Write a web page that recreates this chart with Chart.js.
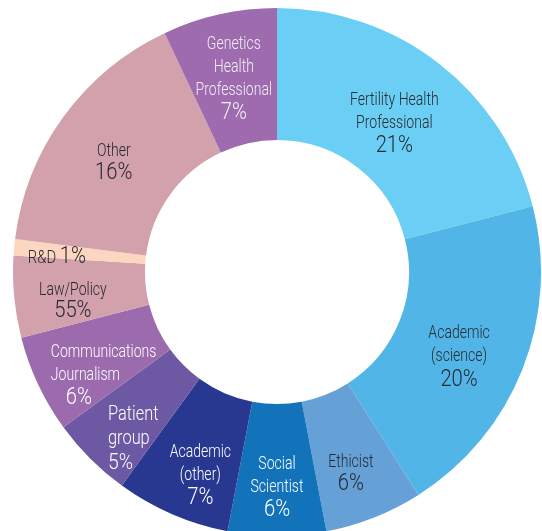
<!DOCTYPE html>
<html>
<head>
<meta charset="utf-8">
<script src="https://cdn.jsdelivr.net/npm/chart.js@4/dist/chart.umd.min.js"></script>
<style>
  html, body { margin: 0; padding: 0; background: #ffffff; overflow: hidden; width: 542px; height: 531px; }
  #wrap { position: absolute; left: 13px; top: 8px; width: 528px; height: 528px; }
</style>
</head>
<body>
<div id="wrap"><canvas id="c" width="528" height="528"></canvas></div>
<script>
// ---- data ----
const categories = [
  "Fertility Health Professional", "Academic (science)", "Ethicist", "Social Scientist",
  "Academic (other)", "Patient group", "Communications Journalism", "Law/Policy",
  "R&D", "Other", "Genetics Health Professional"
];
const shares = [21, 20, 6, 6, 7, 5, 6, 5, 1, 16, 7];
const percentLabels = ["21%", "20%", "6%", "6%", "7%", "5%", "6%", "55%", "1%", "16%", "7%"];
const nameLines = [
  ["Fertility Health", "Professional"],
  ["Academic", "(science)"],
  ["Ethicist"],
  ["Social", "Scientist"],
  ["Academic", "(other)"],
  ["Patient", "group"],
  ["Communications", "Journalism"],
  ["Law/Policy"],
  ["R&D"],
  ["Other"],
  ["Genetics", "Health", "Professional"]
];

// ---- styles ----
const colors = ["#6BCEF5", "#52B5E7", "#65A1D6", "#1273BB", "#283891", "#6C58A3",
                "#9C6BAE", "#D3A1AB", "#FDD6C1", "#D3A1AB", "#9D6BAE"];
const textColors = ["#262a31", "#262a31", "#262a31", "#ffffff", "#ffffff", "#ffffff",
                    "#ffffff", "#262a31", "#262a31", "#262a31", "#f5eef7"];
// label layout relative to each arc's centre point
const labelLayout = [
  {dx: -4, dy: 8,  align: "center", ns: 18, ps: 23, gap: 23, pdx: 0},
  {dx: -2, dy: 12, align: "center", ns: 18, ps: 23, gap: 23, pdx: 0},
  {dx: 1,  dy: 17, align: "center", ns: 18, ps: 23, gap: 22, pdx: 0},
  {dx: 0,  dy: 17, align: "center", ns: 18, ps: 23, gap: 23, pdx: 0},
  {dx: 2,  dy: 22, align: "center", ns: 18, ps: 23, gap: 23, pdx: 0},
  {dx: -29, dy: 27, align: "left", ns: 21, ps: 22, gap: 24, pdx: 0},
  {dx: -47, dy: 19, align: "left", ns: 18, ps: 23, gap: 23, pdx: 15},
  {dx: -7, dy: 10, align: "center", ns: 18, ps: 23, gap: 21, pdx: 0},
  {dx: -23, dy: 4, align: "inline", ns: 19, ps: 23, gap: 0, pdx: 0},
  {dx: -3, dy: 7, align: "center", ns: 18, ps: 23, gap: 22, pdx: 0},
  {dx: 0, dy: 0, align: "center", ns: 18, ps: 23, gap: 23, pdx: 0}
];
const FONT = "Roboto, 'DejaVu Sans Condensed', sans-serif";
const WEIGHT = "300";
const SX_NAME = 0.78;
const SX_PCT = 0.88;

function textWidth(ctx, txt, size, sx) {
  ctx.save();
  ctx.font = WEIGHT + " " + size + "px " + FONT;
  const w = ctx.measureText(txt).width * sx;
  ctx.restore();
  return w;
}
function drawText(ctx, txt, x, y, size, align, sx) {
  const w = textWidth(ctx, txt, size, sx);
  ctx.save();
  ctx.font = WEIGHT + " " + size + "px " + FONT;
  ctx.textBaseline = "middle";
  ctx.textAlign = "left";
  const left = align === "center" ? x - w / 2 : x;
  ctx.translate(left, y);
  ctx.scale(sx, 1);
  ctx.fillText(txt, 0, 0);
  ctx.restore();
  return w;
}

const labelPlugin = {
  id: "sliceLabels",
  afterDatasetsDraw(chart) {
    const ctx = chart.ctx;
    const meta = chart.getDatasetMeta(0);
    meta.data.forEach((arc, i) => {
      const p = arc.getCenterPoint();
      const L = labelLayout[i];
      const cx = p.x + L.dx, cy = p.y + L.dy;
      ctx.fillStyle = textColors[i];
      if (L.align === "inline") {
        const w1 = textWidth(ctx, nameLines[i][0] + " ", L.ns, SX_NAME);
        const w2 = textWidth(ctx, percentLabels[i], L.ps, SX_PCT);
        const left = cx - (w1 + w2) / 2;
        drawText(ctx, nameLines[i][0], left, cy + 1, L.ns, "left", SX_NAME);
        drawText(ctx, percentLabels[i], left + w1, cy, L.ps, "left", SX_PCT);
        return;
      }
      const lines = nameLines[i].map(t => [t, L.ns, SX_NAME, 0]).concat([[percentLabels[i], L.ps, SX_PCT, L.pdx]]);
      const n = lines.length;
      const top = cy - (n - 1) * L.gap / 2;
      lines.forEach((ln, k) => {
        drawText(ctx, ln[0], cx + ln[3], top + k * L.gap, ln[1], L.align === "left" ? "left" : "center", ln[2]);
      });
    });
  }
};

new Chart(document.getElementById("c"), {
  type: "doughnut",
  data: {
    labels: categories,
    datasets: [{
      data: shares,
      backgroundColor: colors,
      borderWidth: 0,
      hoverOffset: 0
    }]
  },
  options: {
    responsive: false,
    animation: false,
    cutout: "50%",
    rotation: 0,
    layout: { padding: 0 },
    plugins: { legend: { display: false }, tooltip: { enabled: false } },
    events: []
  },
  plugins: [labelPlugin]
});
</script>
</body>
</html>
